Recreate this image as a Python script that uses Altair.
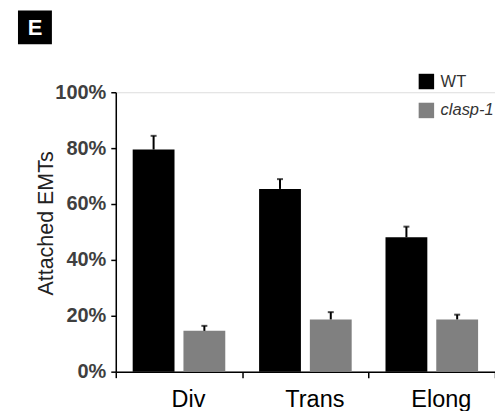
import altair as alt
import pandas as pd

categories = ["Div", "Trans", "Elong"]
series = ["WT", "clasp-1"]
wt_values = [79.5, 65.4, 48.1]
wt_err = [4.9, 3.5, 3.8]
clasp_values = [14.6, 18.7, 18.7]
clasp_err = [1.8, 2.6, 1.7]
y_ticks = [0, 10, 20, 30, 40, 50, 60, 70, 80, 90, 100]

rows = []
for i, c in enumerate(categories):
    rows.append({"stage": c, "genotype": series[0], "value": wt_values[i], "top": wt_values[i] + wt_err[i]})
    rows.append({"stage": c, "genotype": series[1], "value": clasp_values[i], "top": clasp_values[i] + clasp_err[i]})
df = pd.DataFrame(rows)

W, H = 380, 280

x = alt.X("stage:N", sort=categories, title=None,
          scale=alt.Scale(paddingInner=0, paddingOuter=0),
          axis=alt.Axis(tickBand="extent", labelAngle=0, labelFont="Liberation Sans",
                        labelFontSize=23.5, labelColor="#000000", labelPadding=10,
                        labelOffset=9, tickSize=6, tickColor="#000000", tickWidth=1.5,
                        domainColor="#000000", domainWidth=1.5, grid=False))
xoff = alt.XOffset("genotype:N", sort=series,
                   scale=alt.Scale(paddingInner=0.176, paddingOuter=0.333))
y = alt.Y("value:Q", title="Attached EMTs",
          scale=alt.Scale(domain=[0, 100], nice=False),
          axis=alt.Axis(values=y_ticks, grid=False,
                        labelExpr="round(datum.value/10) % 2 == 0 ? datum.value + '%' : ''",
                        labelFont="Liberation Sans", labelFontWeight="bold", labelFontSize=20,
                        labelColor="#3f3f3f", labelPadding=5, tickSize=5, tickColor="#000000",
                        tickWidth=1.5, domainColor="#000000", domainWidth=1.5,
                        titleFont="Liberation Sans", titleFontWeight="normal", titleFontSize=21.5,
                        titleColor="#222222", titlePadding=-3, titleY=131))
color = alt.Color("genotype:N", sort=series,
                  scale=alt.Scale(domain=series, range=["#000000", "#808080"]),
                  legend=alt.Legend(title=None, orient="none", legendX=303, legendY=-19,
                                    symbolType="square", symbolSize=240, symbolStrokeWidth=0,
                                    labelFont="Liberation Sans", labelFontSize=16.5,
                                    labelColor="#333333", labelOffset=6, rowPadding=12, padding=0,
                                    labelFontStyle=alt.ExprRef("datum.label == 'clasp-1' ? 'italic' : 'normal'")))

base = alt.Chart(df)
bars = base.mark_bar().encode(x=x, xOffset=xoff, y=y, color=color)
err = base.mark_rule(color="#000000", strokeWidth=2).encode(
    x=alt.X("stage:N", sort=categories), xOffset=alt.XOffset("genotype:N", sort=series),
    y="value:Q", y2="top:Q")
cap = base.mark_tick(color="#000000", thickness=2, size=6, orient="horizontal").encode(
    x=alt.X("stage:N", sort=categories), xOffset=alt.XOffset("genotype:N", sort=series),
    y="top:Q")

panel = pd.DataFrame({"label": ["E"]})
box = alt.Chart(panel).mark_rect(color="#000000").encode(
    x=alt.value(-98), x2=alt.value(-64), y=alt.value(-82), y2=alt.value(-48))
letter = alt.Chart(panel).mark_text(color="#ffffff", font="Liberation Sans", fontWeight="bold",
                                    fontSize=22, align="center", baseline="middle").encode(
    x=alt.value(-81), y=alt.value(-64), text="label:N")

chart = alt.layer(bars, err, cap, box, letter).properties(
    width=W, height=H, autosize="none",
    padding={"left": 108, "top": 84, "right": 0, "bottom": 39}
).configure_view(stroke=None).configure(background="#ffffff")

chart.save("out.html", embed_options={"renderer": "svg", "actions": False})
